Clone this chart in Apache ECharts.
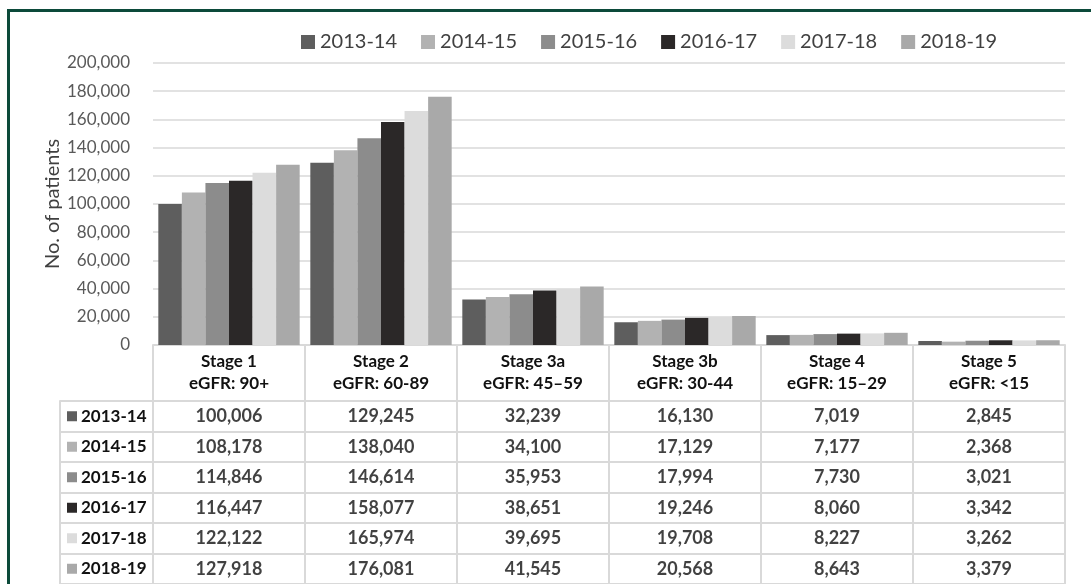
<!DOCTYPE html>
<html>
<head>
<meta charset="utf-8">
<script src="https://cdn.jsdelivr.net/npm/echarts@6/dist/echarts.min.js"></script>
<style>
  html, body { margin: 0; padding: 0; background: #fff; overflow: hidden; }
  #frame { position: absolute; left: 7px; top: 9px; width: 2000px; height: 2000px; border: 3px solid #0c4a3a; }
  #chart { position: absolute; left: 0; top: 0; width: 1091px; height: 584px; }
</style>
</head>
<body>
<div id="frame"></div>
<div id="chart"></div>
<script>
const stages = ['Stage 1\neGFR: 90+', 'Stage 2\neGFR: 60-89', 'Stage 3a\neGFR: 45–59', 'Stage 3b\neGFR: 30-44', 'Stage 4\neGFR: 15–29', 'Stage 5\neGFR: <15']
const years = ['2013-14', '2014-15', '2015-16', '2016-17', '2017-18', '2018-19']
const colors = ['#5e5e5e', '#b2b2b2', '#8c8c8c', '#2b2828', '#dcdcdc', '#a9a9a9']

const v2013 = [100006, 129245, 32239, 16130, 7019, 2845]
const v2014 = [108178, 138040, 34100, 17129, 7177, 2368]
const v2015 = [114846, 146614, 35953, 17994, 7730, 3021]
const v2016 = [116447, 158077, 38651, 19246, 8060, 3342]
const v2017 = [122122, 165974, 39695, 19708, 8227, 3262]
const v2018 = [127918, 176081, 41545, 20568, 8643, 3379]
const values = [v2013, v2014, v2015, v2016, v2017, v2018]

const fmt = (v) => Number(v).toLocaleString('en-US')
const font = 'Lato'
const lineCol = '#d9d9d9'
const ink = '#111'

// rich styles for the little colour squares in the table row labels
const rich = { b: { fontFamily: font, fontWeight: 'bold', fontSize: 17, color: ink, padding: [0, 0, 0, 4] } }
colors.forEach((c, i) => { rich['m' + i] = { width: 10, height: 10, backgroundColor: c } })

// table cells: [stage index, year index, value]
const cells = []
values.forEach((row, y) => row.forEach((v, x) => cells.push([x, y, v])))

const chart = echarts.init(document.getElementById('chart'))
chart.setOption({
  animation: false,
  textStyle: { fontFamily: font },
  legend: {
    data: years,
    left: 296,
    top: 27,
    icon: 'rect',
    itemWidth: 14,
    itemHeight: 14,
    itemGap: 24,
    textStyle: { fontFamily: font, fontSize: 20, color: '#404040' }
  },
  grid: [
    { left: 153, right: 26, top: 63, height: 282 },
    { left: 153, right: 26, top: 401, height: 187, show: true, borderColor: lineCol, borderWidth: 2, backgroundColor: 'transparent' }
  ],
  xAxis: [
    {
      type: 'category',
      data: stages,
      gridIndex: 0,
      axisLine: { lineStyle: { color: lineCol, width: 2 } },
      axisTick: { show: true, length: 56, lineStyle: { color: lineCol, width: 2 } },
      axisLabel: { interval: 0, margin: 6, fontFamily: font, fontWeight: 'bold', fontSize: 17, lineHeight: 22, color: ink }
    },
    {
      type: 'category',
      data: stages,
      gridIndex: 1,
      axisLine: { show: false },
      axisTick: { show: false },
      axisLabel: { show: false },
      splitLine: { show: true, interval: 0, lineStyle: { color: lineCol, width: 2 } }
    }
  ],
  yAxis: [
    {
      type: 'value',
      gridIndex: 0,
      min: 0,
      max: 200000,
      interval: 20000,
      name: 'No. of patients',
      nameLocation: 'middle',
      nameMoveOverlap: false,
      nameGap: 90,
      nameTextStyle: { fontFamily: font, fontSize: 20, color: '#404040' },
      axisLine: { show: false },
      axisTick: { show: false },
      axisLabel: { margin: 23, fontFamily: font, fontSize: 17, color: '#595959', formatter: fmt },
      splitLine: { lineStyle: { color: lineCol, width: 1.5 } }
    },
    {
      type: 'category',
      data: years,
      gridIndex: 1,
      inverse: true,
      axisLine: { show: true, lineStyle: { color: lineCol, width: 2 } },
      axisTick: { show: true, length: 93, lineStyle: { color: lineCol, width: 2 } },
      axisLabel: {
        interval: 0,
        align: 'left',
        margin: 86,
        rich: rich,
        formatter: (val, i) => `{m${i}|}{b|${val}}`
      },
      splitLine: { show: true, interval: 0, lineStyle: { color: lineCol, width: 2 } }
    },
    {
      type: 'category',
      data: years,
      gridIndex: 1,
      position: 'left',
      offset: 93,
      inverse: true,
      axisLine: { show: true, lineStyle: { color: lineCol, width: 2 } },
      axisTick: { show: false },
      axisLabel: { show: false }
    }
  ],
  series: years.map((name, i) => ({
    name: name,
    type: 'bar',
    xAxisIndex: 0,
    yAxisIndex: 0,
    data: values[i],
    barGap: 0,
    barCategoryGap: '7%',
    itemStyle: { color: colors[i] }
  })).concat([{
    name: 'table',
    type: 'scatter',
    xAxisIndex: 1,
    yAxisIndex: 1,
    data: cells,
    symbolSize: 1,
    itemStyle: { color: 'transparent' },
    label: {
      show: true,
      position: 'inside',
      formatter: (p) => fmt(p.value[2]),
      fontFamily: font,
      fontWeight: 'bold',
      fontSize: 18,
      color: ink
    }
  }])
})
</script>
</body>
</html>
